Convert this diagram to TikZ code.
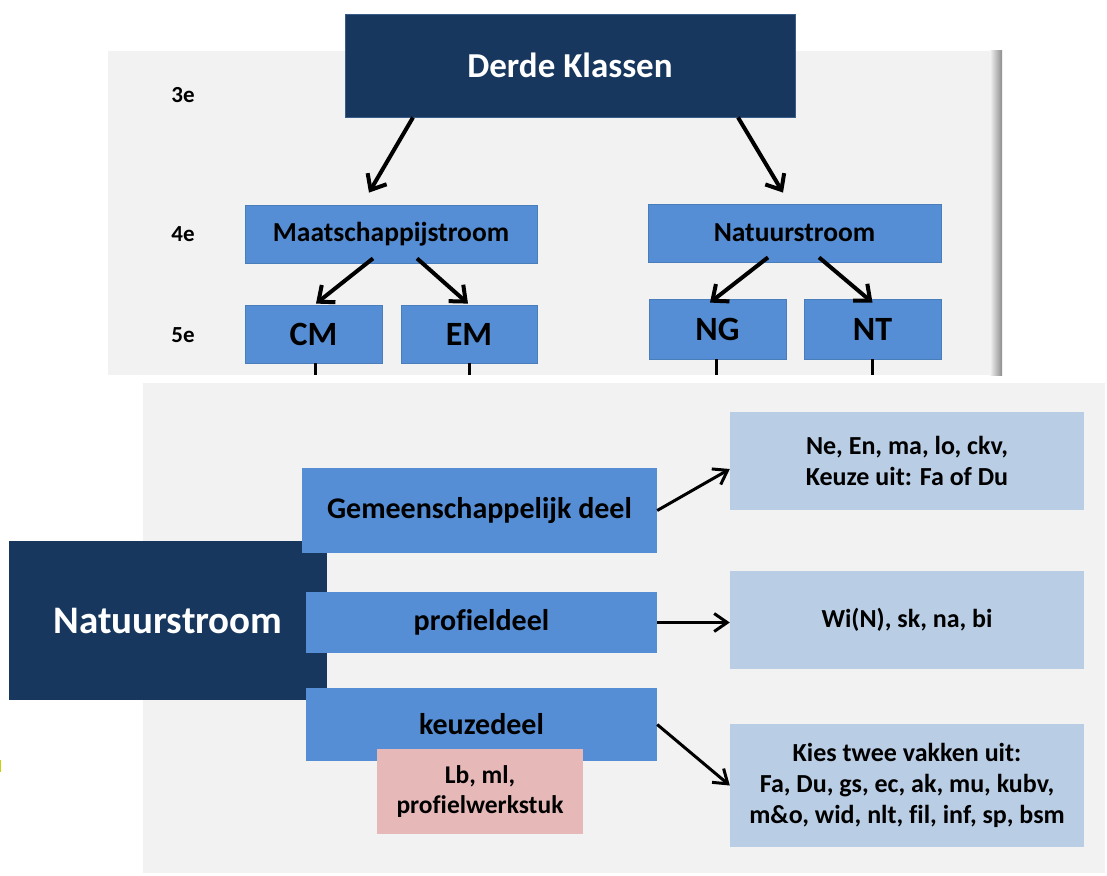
\documentclass[tikz,border=0pt]{standalone}
\usepackage{fontspec}
\setmainfont{Carlito}[Ligatures=NoCommon]
\usetikzlibrary{arrows.meta,calc}
\definecolor{navy}{HTML}{17375E}
\definecolor{navyedge}{HTML}{385D8A}
\definecolor{midblue}{HTML}{558ED5}
\definecolor{midedge}{HTML}{4A7EBB}
\definecolor{paleblue}{HTML}{B9CDE5}
\definecolor{pinkfill}{HTML}{E6B9B8}
\definecolor{panelgray}{HTML}{F2F2F2}
\definecolor{shadowgray}{HTML}{8C8C8C}
\definecolor{specky}{HTML}{C8D400}
\begin{document}
\begin{tikzpicture}[x=1pt,y=-1pt,
  box/.style={rectangle, inner sep=0pt, align=center, text=black},
  darkbox/.style={box, fill=navy, draw=navyedge, line width=0.8pt, text=white},
  midbox/.style={box, fill=midblue, draw=midedge, line width=0.8pt},
  midflat/.style={box, fill=midblue},
  palebox/.style={box, fill=paleblue},
  pinkbox/.style={box, fill=pinkfill},
  fTitle/.style={font=\fontsize{35}{42}\selectfont\bfseries},
  fBig/.style={font=\fontsize{39}{47}\selectfont\bfseries},
  fCode/.style={font=\fontsize{34}{41}\selectfont\bfseries},
  fStream/.style={font=\fontsize{27.5}{33}\selectfont\bfseries},
  fPart/.style={font=\fontsize{30}{36}\selectfont\bfseries},
  fList/.style={font=\fontsize{26}{31}\selectfont\bfseries},
  fPink/.style={font=\fontsize{25.5}{30}\selectfont\bfseries},
  fYear/.style={font=\fontsize{23}{27}\selectfont\bfseries},
  arrowA/.style={line width=4pt, -{Straight Barb[length=13pt,width=22pt]}},
  arrowB/.style={line width=3pt, -{Straight Barb[length=13pt,width=18pt]}},
  stem/.style={line width=3pt}
]
\useasboundingbox (0,0) rectangle (1107,875);
\fill[white] (0,0) rectangle (1107,875);

% top panel
\fill[panelgray] (108,51) rectangle (1002,375);
\shade[left color=panelgray, right color=shadowgray] (990,51) rectangle (1002,375);
\coordinate (pb) at (0,375);

% bottom panel
\fill[panelgray] (143,383) rectangle (1105,873);

% speck
\fill[specky] (0,760) rectangle (1.2,772);

% top tree
\node[darkbox, fTitle, minimum width=450pt, minimum height=103pt] (dk) at (570,65.5) {Derde Klassen};

\node[box, fYear] (y3) at (183,95) {3e};
\node[box, fYear] (y4) at (183,234) {4e};
\node[box, fYear] (y5) at (183,335) {5e};

\node[midbox, fStream, minimum width=292pt, minimum height=58pt] (maats) at (391,234) {Maatschappijstroom};
\node[midbox, fStream, minimum width=293pt, minimum height=58pt] (natT) at (794.5,233) {Natuurstroom};

\node[midbox, fCode, minimum width=137pt, minimum height=58pt] (cm) at (313.5,334) {CM};
\node[midbox, fCode, minimum width=136pt, minimum height=58pt] (em) at (469,334) {EM};
\node[midbox, fCode, minimum width=137pt, minimum height=60pt] (ng) at (717.5,329) {NG};
\node[midbox, fCode, minimum width=137pt, minimum height=60pt] (nt) at (872.5,329) {NT};

\draw[arrowA] ([xshift=-157pt]dk.south) -- ([xshift=-22pt,yshift=12pt]maats.north);
\draw[arrowA] ([xshift=168pt]dk.south) -- ([xshift=-11.5pt,yshift=11pt]natT.north);
\draw[arrowA] ([xshift=-18pt,yshift=5pt]maats.south) -- ([xshift=2.5pt,yshift=1pt]cm.north);
\draw[arrowA] ([xshift=26pt,yshift=5pt]maats.south) -- ([xshift=-1pt,yshift=1pt]em.north);
\draw[arrowA] ([xshift=-26.5pt,yshift=5pt]natT.south) -- ([xshift=-7.5pt,yshift=-4pt]ng.north);
\draw[arrowA] ([xshift=24.5pt,yshift=5pt]natT.south) -- ([yshift=-4pt]nt.north);

\draw[stem] ([xshift=1.5pt]cm.south) -- ([xshift=1.5pt]cm.south |- pb);
\draw[stem] (em.south) -- (em.south |- pb);
\draw[stem] ([xshift=-1.5pt]ng.south) -- ([xshift=-1.5pt]ng.south |- pb);
\draw[stem] (nt.south) -- (nt.south |- pb);

% bottom part
\node[box, fill=navy, text=white, fBig, minimum width=318pt, minimum height=159pt] (natB) at (168,620.5) {Natuurstroom};

\node[midflat, fPart, minimum width=355pt, minimum height=85pt] (gem) at (479.5,510.5) {Gemeenschappelijk deel};
\node[midflat, fPart, minimum width=351pt, minimum height=61pt] (prof) at (481.5,622.5) {profieldeel};
\node[midflat, fPart, minimum width=351pt, minimum height=73pt] (keuze) at (481.5,724.5) {keuzedeel};
\node[pinkbox, fPink, minimum width=206pt, minimum height=85pt] (pwk) at (480,791.5) {Lb, ml,\\profielwerkstuk};

\node[palebox, fList, minimum width=354pt, minimum height=98pt] (r1) at (907,461) {Ne, En, ma, lo, ckv,\\Keuze uit: Fa of Du};
\node[palebox, fList, minimum width=354pt, minimum height=98pt] (r2) at (907,620) {Wi(N), sk, na, bi};
\node[palebox, fList, minimum width=354pt, minimum height=123pt] (r3) at (907,785.5) {Kies twee vakken uit:\\Fa, Du, gs, ec, ak, mu, kubv,\\m\&o, wid, nlt, fil, inf, sp, bsm};

\draw[arrowB] (gem.east) -- ([yshift=-8pt]r1.west);
\draw[arrowB] (prof.east) -- (prof.east -| r2.west);
\draw[arrowB] (keuze.east) -- (r3.west);
\end{tikzpicture}
\end{document}
